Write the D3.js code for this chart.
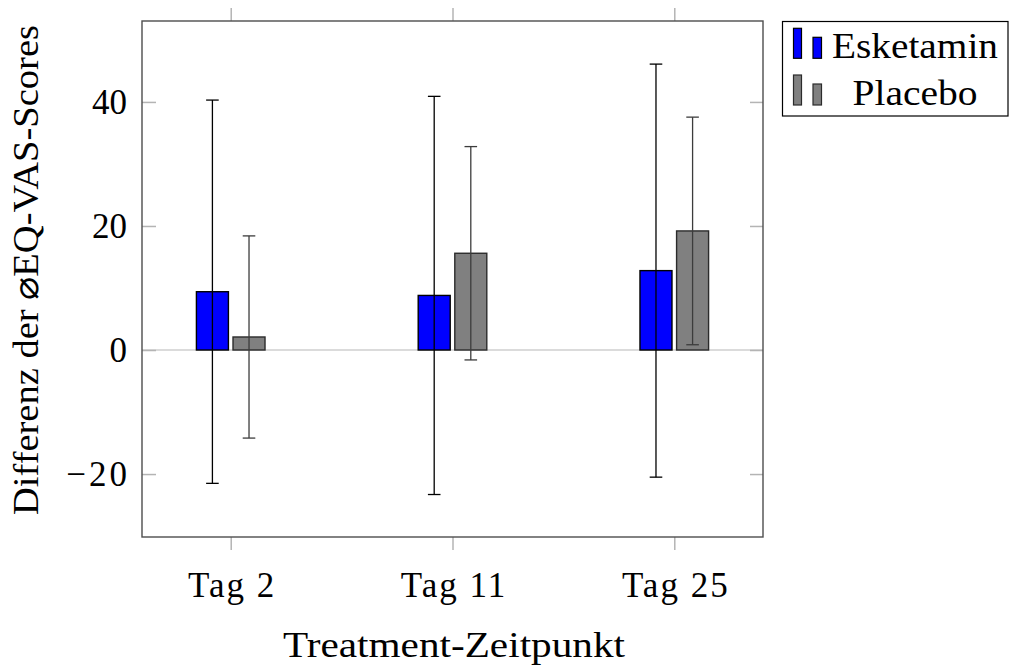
<!DOCTYPE html>
<html>
<head>
<meta charset="utf-8">
<script src="https://cdn.jsdelivr.net/npm/d3@7"></script>
<style>
  body { margin: 0; background: #fff; }
  text { font-family: "Liberation Serif", "DejaVu Serif", serif; fill: #000; }
</style>
</head>
<body>
<div id="chart"></div>
<script>
////////////////////////////////////////////////////////////////
// Data

let categories = ["Tag 2", "Tag 11", "Tag 25"]
let esketaminMean = [9.4, 8.8, 12.8]
let esketaminErr = [30.9, 32.1, 33.3]
let placeboMean = [2.1, 15.6, 19.2]
let placeboErr = [16.3, 17.2, 18.35]
let yTicks = [-20, 0, 20, 40]

////////////////////////////////////////////////////////////////
// Setup

let svg = d3.select("#chart").append("svg")
  .attr("width", 1009)
  .attr("height", 668)

let plotLeft = 142, plotTop = 21, plotRight = 763, plotBottom = 537

let xScale = d3.scaleLinear().domain([-0.4, 2.4]).range([plotLeft, plotRight])
let yScale = d3.scaleLinear().domain([-30.15, 53.05]).range([plotBottom, plotTop])

let fontSize = 35
let barW = 32, off = 18.3, capW = 6.3

let series = [
  { name: "Esketamin", mean: esketaminMean, err: esketaminErr, fill: "#0000ff", stroke: "#000", errColor: "#000", dx: -off, textLen: 166 },
  { name: "Placebo", mean: placeboMean, err: placeboErr, fill: "#808080", stroke: "#2b2b2b", errColor: "#3c3c3c", dx: off, textLen: 125 }
]

//zero line
svg.append("line")
  .attr("x1", plotLeft).attr("x2", plotRight)
  .attr("y1", yScale(0)).attr("y2", yScale(0))
  .attr("stroke", "#cfcfcf")
  .attr("stroke-width", 1.5)

//axes
let yAxisL = d3.axisLeft(yScale).tickValues(yTicks).tickSize(-14).tickPadding(15)
let yAxisR = d3.axisRight(yScale).tickValues(yTicks).tickSize(-13).tickFormat("")
let xAxisB = d3.axisBottom(xScale).tickValues([0, 1, 2]).tickSize(13).tickFormat((d, i) => categories[i])
let xAxisT = d3.axisTop(xScale).tickValues([0, 1, 2]).tickSize(13).tickFormat("")

let gL = svg.append("g").attr("transform", `translate(${plotLeft},0)`).call(yAxisL)
let gR = svg.append("g").attr("transform", `translate(${plotRight},0)`).call(yAxisR)
let gB = svg.append("g").attr("transform", `translate(0,${plotBottom})`).call(xAxisB)
let gT = svg.append("g").attr("transform", `translate(0,${plotTop})`).call(xAxisT)

for (let g of [gL, gR, gB, gT]) {
  g.select(".domain").remove()
  g.selectAll(".tick line").attr("stroke", "#b4b4b4").attr("stroke-width", 1.5)
  g.selectAll(".tick text")
    .style("font-family", "Liberation Serif, serif")
    .attr("font-size", fontSize)
    .attr("fill", "#000")
}
gB.selectAll(".tick text")
  .attr("y", 60).attr("dy", 0)
  .attr("x", 1)
  .style("letter-spacing", "2px")
gL.selectAll(".tick text").filter(d => d < 0).style("letter-spacing", "3px").attr("x", -12)

//bars
series.forEach(s => {
  let g = svg.append("g")
  g.selectAll("rect")
    .data(s.mean)
    .enter()
    .append("rect")
    .attr("x", (d, i) => xScale(i) + s.dx - barW / 2)
    .attr("y", d => yScale(d))
    .attr("width", barW)
    .attr("height", d => yScale(0) - yScale(d))
    .attr("fill", s.fill)
    .attr("stroke", s.stroke)
    .attr("stroke-width", 1.4)
})

//error bars
series.forEach(s => {
  let g = svg.append("g")
    .attr("stroke", s.errColor)
    .attr("stroke-width", 1.3)
  s.mean.forEach((m, i) => {
    let cx = xScale(i) + s.dx
    let hi = yScale(m + s.err[i]), lo = yScale(m - s.err[i])
    g.append("line").attr("x1", cx).attr("x2", cx).attr("y1", hi).attr("y2", lo)
    g.append("line").attr("x1", cx - capW).attr("x2", cx + capW).attr("y1", hi).attr("y2", hi)
    g.append("line").attr("x1", cx - capW).attr("x2", cx + capW).attr("y1", lo).attr("y2", lo)
  })
})

//frame
svg.append("rect")
  .attr("x", plotLeft).attr("y", plotTop)
  .attr("width", plotRight - plotLeft).attr("height", plotBottom - plotTop)
  .attr("fill", "none")
  .attr("stroke", "#4d4d4d")
  .attr("stroke-width", 1.4)

//axis titles
svg.append("text")
  .attr("x", 454)
  .attr("y", 657)
  .attr("text-anchor", "middle")
  .attr("font-size", fontSize)
  .attr("textLength", 342)
  .attr("lengthAdjust", "spacingAndGlyphs")
  .text("Treatment-Zeitpunkt")

svg.append("text")
  .attr("transform", `translate(38,270) rotate(-90)`)
  .attr("text-anchor", "middle")
  .attr("font-size", fontSize)
  .attr("textLength", 490)
  .attr("lengthAdjust", "spacingAndGlyphs")
  .text("Differenz der \u2300EQ-VAS-Scores")

////////////////////////////////////////////////////////////////
// Legend

let legend = svg.append("g")
legend.append("rect")
  .attr("x", 782.5).attr("y", 21.5)
  .attr("width", 225.5).attr("height", 94.5)
  .attr("fill", "#fff")
  .attr("stroke", "#000")
  .attr("stroke-width", 1.2)

series.forEach((s, k) => {
  let base = 58.3 + k * 46.7
  legend.append("rect")
    .attr("x", 793.5).attr("y", base - 30)
    .attr("width", 8).attr("height", 30)
    .attr("fill", s.fill).attr("stroke", s.stroke).attr("stroke-width", 1.2)
  legend.append("rect")
    .attr("x", 813).attr("y", base - 21)
    .attr("width", 8.5).attr("height", 21)
    .attr("fill", s.fill).attr("stroke", s.stroke).attr("stroke-width", 1.2)
  legend.append("text")
    .attr("x", 915).attr("y", base)
    .attr("text-anchor", "middle")
    .attr("font-size", fontSize)
    .attr("textLength", s.textLen)
    .attr("lengthAdjust", "spacingAndGlyphs")
    .text(s.name)
})
</script>
</body>
</html>
